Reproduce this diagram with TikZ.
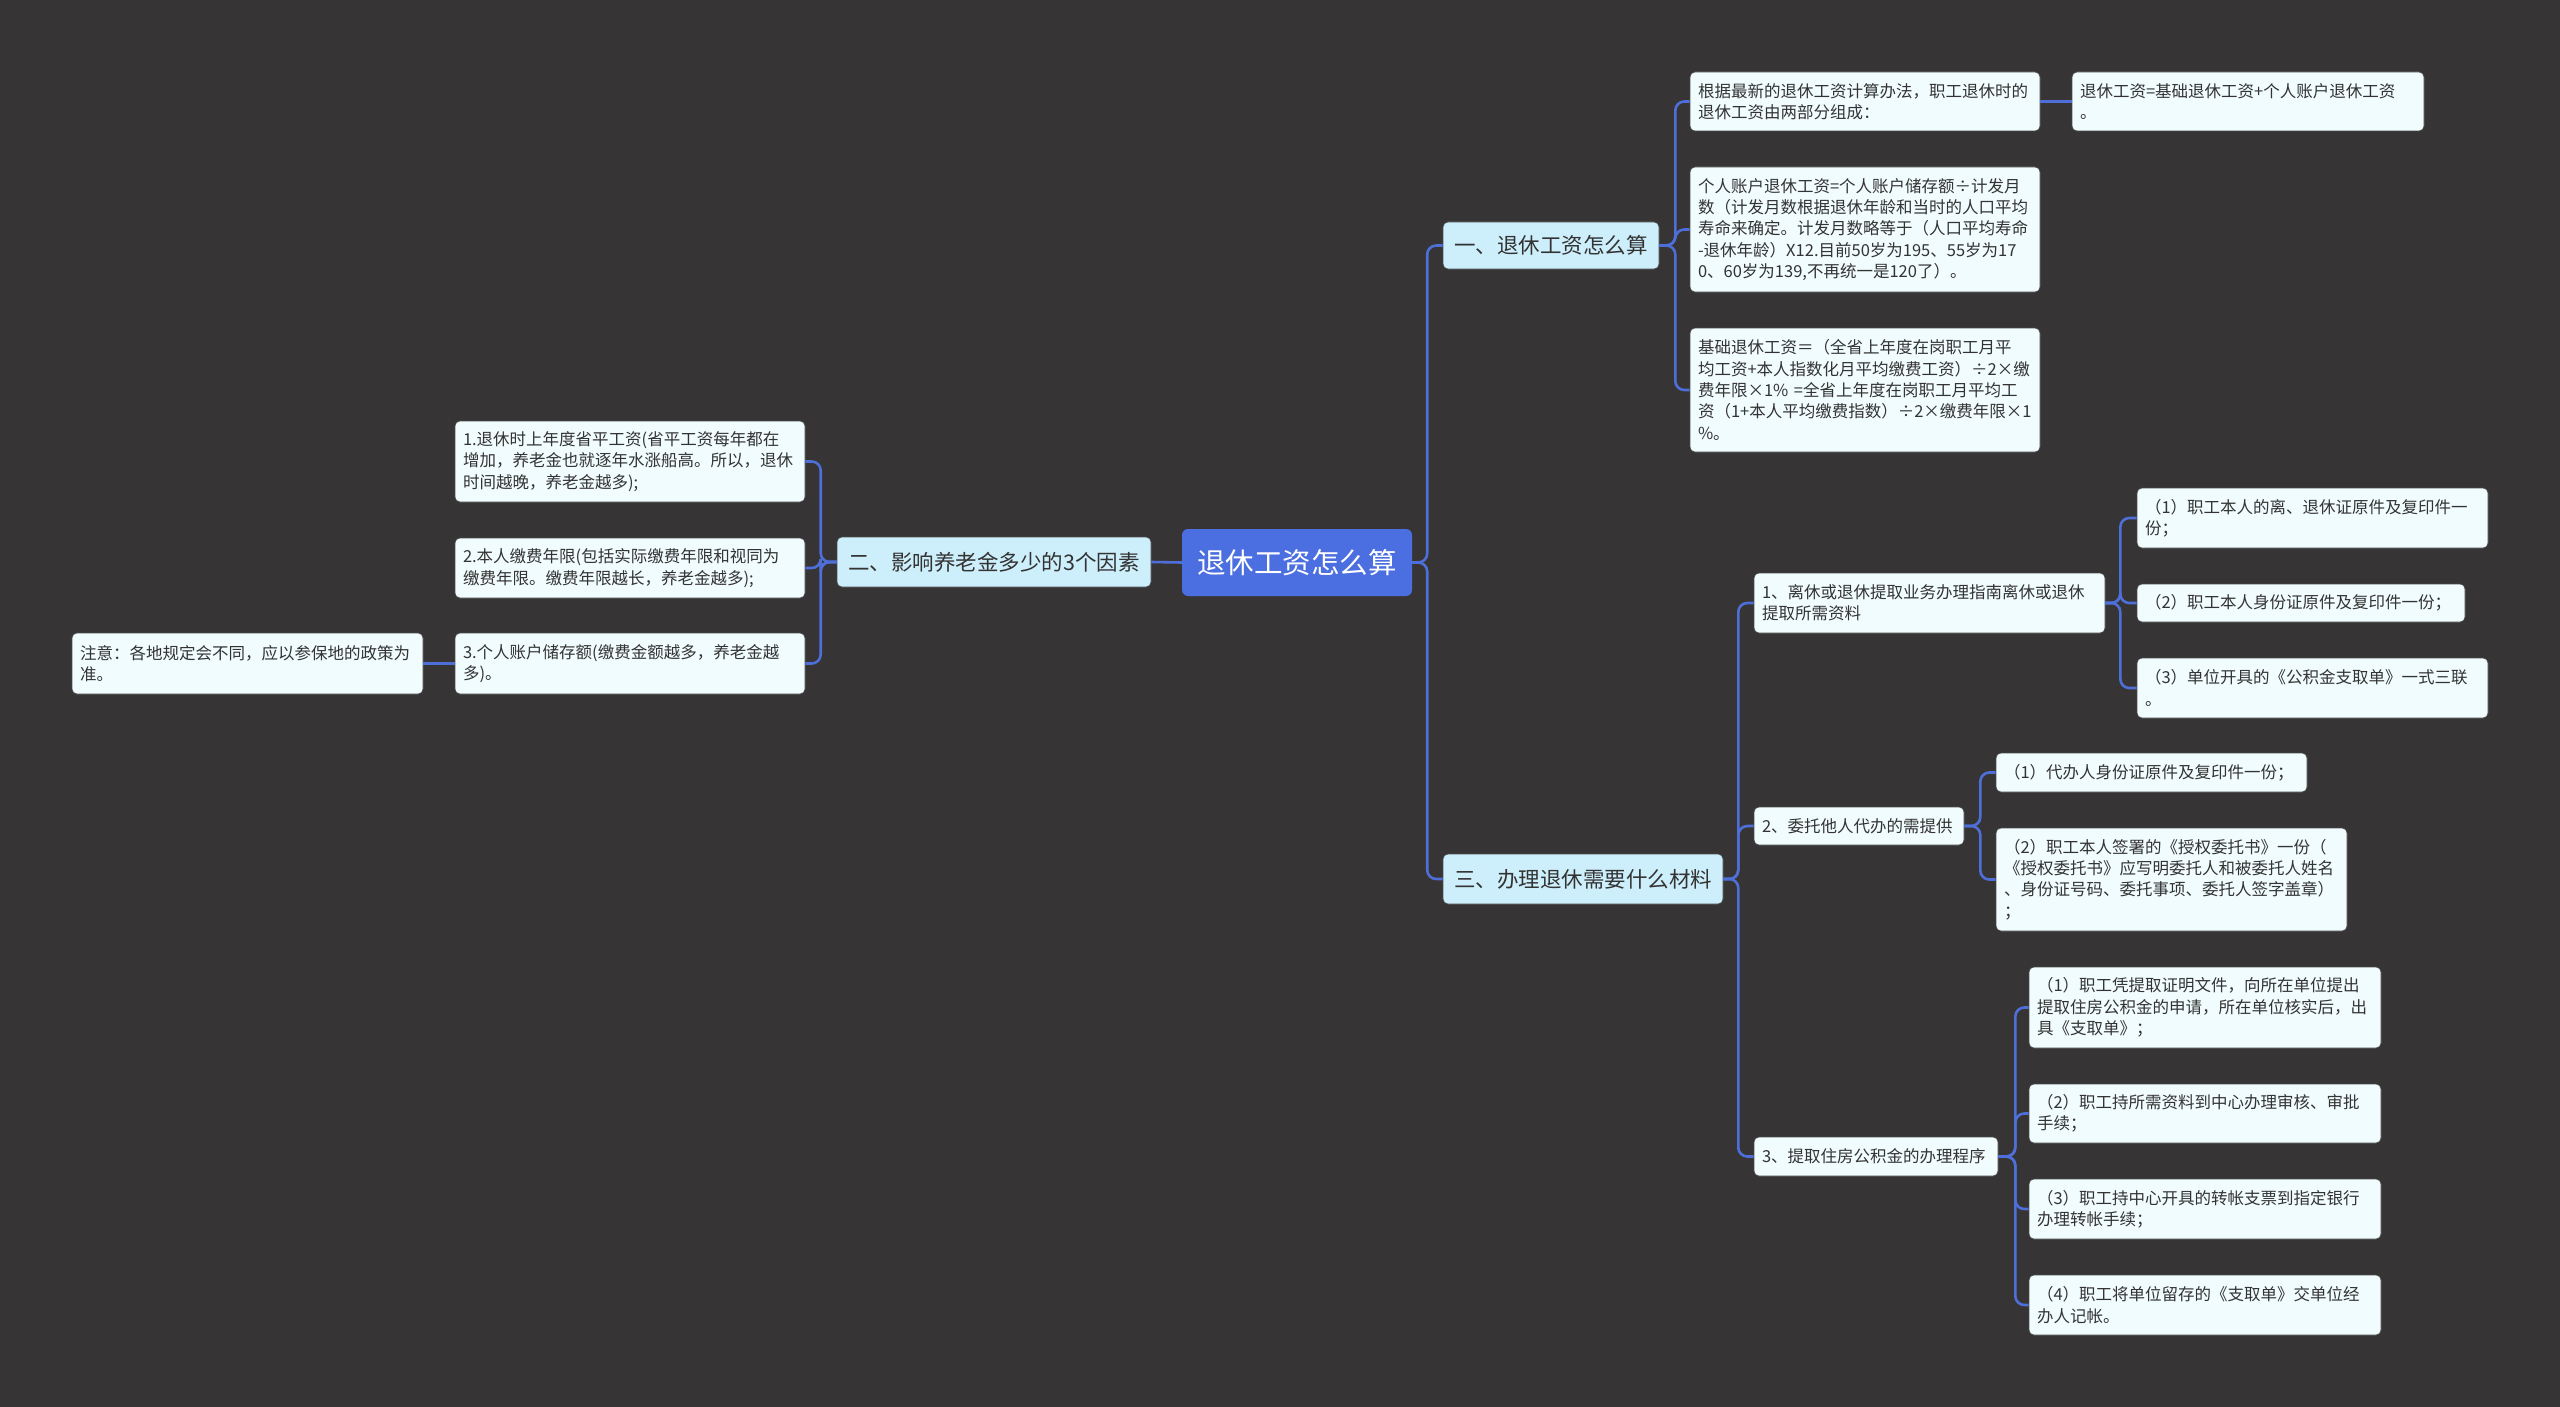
\documentclass[tikz,border=0pt]{standalone}
\usepackage{fontspec}
\setmainfont{Noto Sans CJK SC}
\definecolor{bgc}{HTML}{363435}
\definecolor{linec}{HTML}{4E6FD8}
\definecolor{rootc}{HTML}{4B6EE0}
\definecolor{secc}{HTML}{CDEEFB}
\definecolor{leafc}{HTML}{F1FCFE}
\definecolor{txtc}{HTML}{333333}
\newcommand\leaffont{\fontsize{16.5pt}{21.3pt}\selectfont}
\newcommand\secfont{\fontsize{21.5pt}{26pt}\selectfont}
\newcommand\rootfont{\fontsize{28.5pt}{34pt}\selectfont}
\tikzset{
  leaf/.style={rounded corners=5pt, fill=leafc, draw=black!70, line width=0.6pt, text=txtc, font=\leaffont, align=left, inner xsep=8pt, inner ysep=3pt},
  sec/.style={rounded corners=5pt, fill=secc, draw=black!70, line width=0.6pt, text=txtc, font=\secfont, inner sep=0pt},
  rootbox/.style={rounded corners=6pt, fill=rootc, text=white, font=\rootfont, inner sep=0pt},
  conn/.style={draw=linec, line width=2.6pt, rounded corners=9pt}
}
\begin{document}
\begin{tikzpicture}[x=1pt,y=-1pt]
\useasboundingbox (0,0) rectangle (2560,1407);
\fill[bgc] (0,0) rectangle (2560,1407);

% root and sections
\node[rootbox, minimum width=230pt, minimum height=67pt] (root) at (1297,562.5) {退休工资怎么算};
\node[sec, minimum width=216pt, minimum height=47pt] (s1) at (1551,245.5) {一、退休工资怎么算};
\node[sec, minimum width=314pt, minimum height=50pt] (s2) at (994,562) {二、影响养老金多少的3个因素};
\node[sec, minimum width=280pt, minimum height=50pt] (s3) at (1583,879) {三、办理退休需要什么材料};

% section 1 children
\node[leaf, text width=334pt, minimum height=59pt] (a1) at (1865,101.5) {根据最新的退休工资计算办法，职工退休时的\\退休工资由两部分组成：};
\node[leaf, text width=336pt, minimum height=59pt] (a1a) at (2248,101.5) {退休工资=基础退休工资+个人账户退休工资\\。};
\node[leaf, text width=334pt, minimum height=125pt] (a2) at (1865,229.5) {个人账户退休工资=个人账户储存额÷计发月\\数（计发月数根据退休年龄和当时的人口平均\\寿命来确定。计发月数略等于（人口平均寿命\\-退休年龄）X12.目前50岁为195、55岁为17\\0、60岁为139,不再统一是120了）。};
\node[leaf, text width=334pt, minimum height=124pt] (a3) at (1865,390) {基础退休工资＝（全省上年度在岗职工月平\\均工资+本人指数化月平均缴费工资）÷2×缴\\费年限×1\%~=全省上年度在岗职工月平均工\\资（1+本人平均缴费指数）÷2×缴费年限×1\\\%。};

% section 2 children
\node[leaf, text width=334pt, minimum height=81pt] (b1) at (630,461.5) {1.退休时上年度省平工资(省平工资每年都在\\增加，养老金也就逐年水涨船高。所以，退休\\时间越晚，养老金越多);};
\node[leaf, text width=334pt, minimum height=60pt] (b2) at (630,568) {2.本人缴费年限(包括实际缴费年限和视同为\\缴费年限。缴费年限越长，养老金越多);};
\node[leaf, text width=334pt, minimum height=61pt] (b3) at (630,663.5) {3.个人账户储存额(缴费金额越多，养老金越\\多)。};
\node[leaf, text width=335pt, minimum height=61pt] (b3a) at (247.5,663.5) {注意：各地规定会不同，应以参保地的政策为\\准。};

% section 3 children
\node[leaf, text width=335pt, minimum height=60pt] (c1) at (1929.5,603) {1、离休或退休提取业务办理指南离休或退休\\提取所需资料};
\node[leaf, text width=335pt, minimum height=60pt] (c1a) at (2312.5,518) {（1）职工本人的离、退休证原件及复印件一\\份；};
\node[leaf, text width=312pt, minimum height=38pt] (c1b) at (2301,603) {（2）职工本人身份证原件及复印件一份；};
\node[leaf, text width=335pt, minimum height=60pt] (c1c) at (2312.5,688) {（3）单位开具的《公积金支取单》一式三联\\。};
\node[leaf, text width=194pt, minimum height=38pt] (c2) at (1859,826) {2、委托他人代办的需提供};
\node[leaf, text width=295pt, minimum height=39pt] (c2a) at (2151.5,772.5) {（1）代办人身份证原件及复印件一份；};
\node[leaf, text width=335pt, minimum height=103pt] (c2b) at (2171.5,879.5) {（2）职工本人签署的《授权委托书》一份（\\《授权委托书》应写明委托人和被委托人姓名\\、身份证号码、委托事项、委托人签字盖章）\\；};
\node[leaf, text width=228pt, minimum height=39pt] (c3) at (1876,1156.5) {3、提取住房公积金的办理程序};
\node[leaf, text width=336pt, minimum height=81pt] (c3a) at (2205,1007.5) {（1）职工凭提取证明文件，向所在单位提出\\提取住房公积金的申请，所在单位核实后，出\\具《支取单》；};
\node[leaf, text width=336pt, minimum height=59pt] (c3b) at (2205,1113.5) {（2）职工持所需资料到中心办理审核、审批\\手续；};
\node[leaf, text width=336pt, minimum height=60pt] (c3c) at (2205,1209) {（3）职工持中心开具的转帐支票到指定银行\\办理转帐手续；};
\node[leaf, text width=336pt, minimum height=60pt] (c3d) at (2205,1305) {（4）职工将单位留存的《支取单》交单位经\\办人记帐。};

% connectors
\draw[conn] (root.east) -- ++(15,0) |- (s1.west);
\draw[conn] (root.east) -- ++(15,0) |- (s3.west);
\draw[conn] (root.west) -- (s2.east);

\draw[conn] (s1.east) -- ++(16,0) |- (a1.west);
\draw[conn] (s1.east) -- ++(16,0) |- (a2.west);
\draw[conn] (s1.east) -- ++(16,0) |- (a3.west);
\draw[conn] (a1.east) -- (a1a.west);

\draw[conn] (s2.west) -- ++(-16,0) |- (b1.east);
\draw[conn] (s2.west) -- ++(-16,0) |- (b2.east);
\draw[conn] (s2.west) -- ++(-16,0) |- (b3.east);
\draw[conn] (b3.west) -- (b3a.east);

\draw[conn] (s3.east) -- ++(15,0) |- (c1.west);
\draw[conn] (s3.east) -- ++(15,0) |- (c2.west);
\draw[conn] (s3.east) -- ++(15,0) |- (c3.west);

\draw[conn] (c1.east) -- ++(15,0) |- (c1a.west);
\draw[conn] (c1.east) -- ++(15,0) |- (c1b.west);
\draw[conn] (c1.east) -- ++(15,0) |- (c1c.west);

\draw[conn] (c2.east) -- ++(16,0) |- (c2a.west);
\draw[conn] (c2.east) -- ++(16,0) |- (c2b.west);

\draw[conn] (c3.east) -- ++(17,0) |- (c3a.west);
\draw[conn] (c3.east) -- ++(17,0) |- (c3b.west);
\draw[conn] (c3.east) -- ++(17,0) |- (c3c.west);
\draw[conn] (c3.east) -- ++(17,0) |- (c3d.west);
\end{tikzpicture}
\end{document}
